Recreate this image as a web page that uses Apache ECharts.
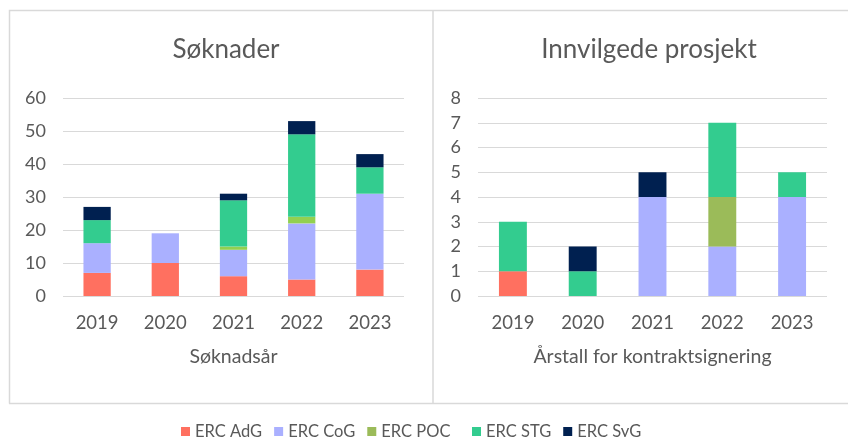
<!DOCTYPE html>
<html>
<head>
<meta charset="utf-8">
<script src="https://cdn.jsdelivr.net/npm/echarts@6/dist/echarts.min.js"></script>
<style>
  html, body { margin: 0; padding: 0; background: #fff; }
  #chart { width: 848px; height: 437px; }
</style>
</head>
<body>
<div id="chart"></div>
<script>
const years = ["2019", "2020", "2021", "2022", "2023"];
const seriesNames = ["ERC AdG", "ERC CoG", "ERC POC", "ERC STG", "ERC SyG"];

// Søknader (applications)
const appAdG = [7, 10, 6, 5, 8];
const appCoG = [9, 9, 8, 17, 23];
const appPOC = [0, 0, 1, 2, 0];
const appSTG = [7, 0, 14, 25, 8];
const appSyG = [4, 0, 2, 4, 4];

// Innvilgede prosjekt (granted)
const grAdG = [1, 0, 0, 0, 0];
const grCoG = [0, 0, 4, 2, 4];
const grPOC = [0, 0, 0, 2, 0];
const grSTG = [2, 1, 0, 3, 1];
const grSyG = [0, 1, 1, 0, 0];

const leftColors = ["#FF7060", "#AAB0FF", "#92D050", "#33CC8F", "#002050"];
const rightColors = ["#FF7060", "#AAB0FF", "#9BBB59", "#33CC8F", "#002050"];

const font = "Lato, 'Open Sans', sans-serif";
const textColor = "#595959";
const lineColor = "#D9D9D9";

const chart = echarts.init(document.getElementById("chart"));

const xAxisBase = (gridIndex, name) => ({
    type: "category",
    gridIndex: gridIndex,
    data: years,
    name: name,
    nameLocation: "middle",
    nameGap: 51,
    nameTextStyle: { color: textColor, fontSize: 19.5, fontFamily: font },
    axisLine: { show: false },
    axisTick: { show: false },
    axisLabel: { color: textColor, fontSize: 18.5, fontFamily: font, margin: 18 }
});

const yAxisBase = (gridIndex, max, interval) => ({
    type: "value",
    gridIndex: gridIndex,
    min: 0,
    max: max,
    interval: interval,
    axisLine: { show: false },
    axisTick: { show: false },
    axisLabel: { color: textColor, fontSize: 18, fontFamily: font, margin: 17 },
    splitLine: { lineStyle: { color: lineColor, width: 1 } }
});

const leftData = [appAdG, appCoG, appPOC, appSTG, appSyG];
const rightData = [grAdG, grCoG, grPOC, grSTG, grSyG];

const series = [];
seriesNames.forEach((name, i) => {
    series.push({
        name: name,
        type: "bar",
        stack: "left",
        xAxisIndex: 0,
        yAxisIndex: 0,
        barWidth: "40%",
        itemStyle: { color: leftColors[i] },
        data: leftData[i]
    });
});
seriesNames.forEach((name, i) => {
    series.push({
        name: name,
        type: "bar",
        stack: "right",
        xAxisIndex: 1,
        yAxisIndex: 1,
        barWidth: "40%",
        itemStyle: { color: rightColors[i] },
        data: rightData[i]
    });
});

const legendText = { color: textColor, fontSize: 16.5, fontFamily: font };

chart.setOption({
    animation: false,
    backgroundColor: "#fff",
    title: [
        {
            text: "Søknader",
            left: 221,
            top: 32,
            textAlign: "center",
            textStyle: { color: textColor, fontSize: 26, fontWeight: "normal", fontFamily: font }
        },
        {
            text: "Innvilgede prosjekt",
            left: 644,
            top: 32,
            textAlign: "center",
            textStyle: { color: textColor, fontSize: 26, fontWeight: "normal", fontFamily: font }
        }
    ],
    legend: [
        {
            data: [
                { name: "ERC AdG", itemStyle: { color: rightColors[0] } },
                { name: "ERC CoG", itemStyle: { color: rightColors[1] } },
                { name: "ERC POC", itemStyle: { color: rightColors[2] } }
            ],
            left: 176,
            top: 418,
            itemWidth: 9,
            itemHeight: 9,
            itemGap: 12,
            icon: "rect",
            textStyle: legendText
        },
        {
            data: [
                { name: "ERC STG", itemStyle: { color: rightColors[3] } },
                { name: "ERC SyG", itemStyle: { color: rightColors[4] } }
            ],
            left: 467,
            top: 418,
            itemWidth: 9,
            itemHeight: 9,
            itemGap: 12,
            icon: "rect",
            textStyle: legendText
        }
    ],
    graphic: [
        {
            type: "polyline",
            shape: { points: [[9.5, 403.5], [9.5, 10.5], [848, 10.5]] },
            style: { stroke: lineColor, fill: null, lineWidth: 1.5 }
        },
        {
            type: "line",
            shape: { x1: 9, y1: 403.5, x2: 848, y2: 403.5 },
            style: { stroke: lineColor, lineWidth: 1.5 }
        },
        {
            type: "line",
            shape: { x1: 433, y1: 10, x2: 433, y2: 403 },
            style: { stroke: lineColor, lineWidth: 1.5 }
        }
    ],
    grid: [
        { left: 63, width: 341, top: 98, height: 198 },
        { left: 478, width: 349, top: 98, height: 198 }
    ],
    xAxis: [xAxisBase(0, "Søknadsår"), xAxisBase(1, "Årstall for kontraktsignering")],
    yAxis: [yAxisBase(0, 60, 10), yAxisBase(1, 8, 1)],
    series: series
});
</script>
</body>
</html>
